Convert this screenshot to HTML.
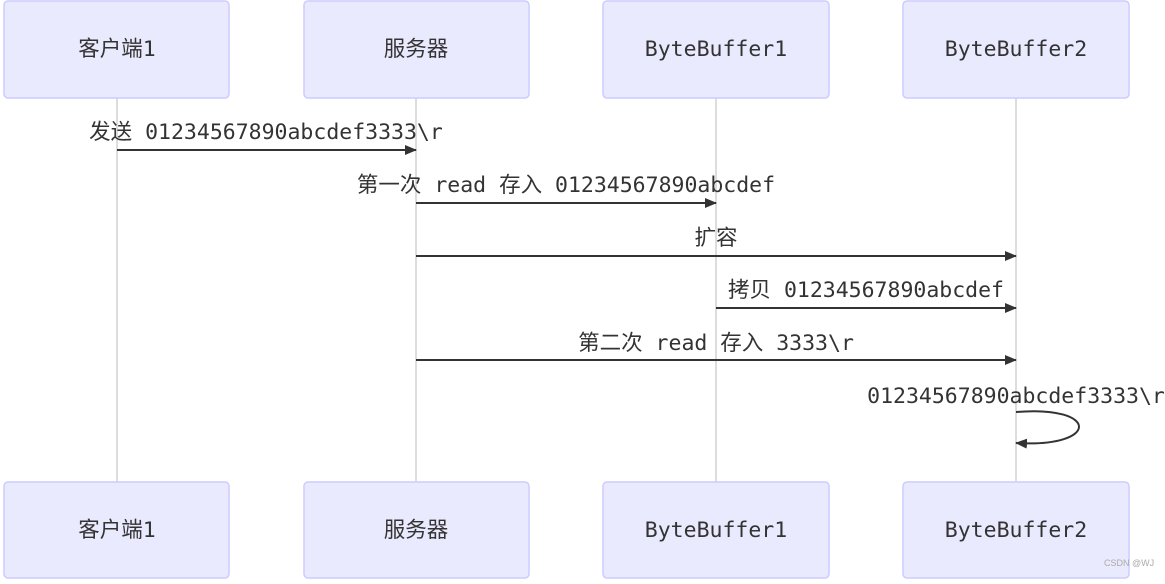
<!DOCTYPE html>
<html><head><meta charset="utf-8"><style>
html,body{margin:0;padding:0;background:#fff;}
svg text{font-family:"DejaVu Sans Mono","Liberation Mono","Noto Sans CJK SC",monospace;font-size:21.5px;fill:#333;}
</style></head><body>
<svg width="1165" height="579" viewBox="0 0 1165 579" xmlns="http://www.w3.org/2000/svg">
<defs><marker id="a" markerWidth="12" markerHeight="10" refX="11" refY="5" orient="auto" markerUnits="userSpaceOnUse"><path d="M0,0 L12,5 L0,10 z" fill="#333"/></marker></defs>
<g stroke="#bbb" stroke-width="1">
<line x1="117" y1="98" x2="117" y2="482"/><line x1="416" y1="98" x2="416" y2="482"/>
<line x1="716" y1="98" x2="716" y2="482"/><line x1="1016" y1="98" x2="1016" y2="482"/>
</g>
<g fill="#eaeaff" stroke="#ccccff" stroke-width="1.5">
<rect x="4" y="1" width="225" height="97" rx="4"/><rect x="304" y="1" width="225" height="97" rx="4"/>
<rect x="603" y="1" width="226" height="97" rx="4"/><rect x="903" y="1" width="226" height="97" rx="4"/>
<rect x="4" y="482" width="225" height="96" rx="4"/><rect x="304" y="482" width="225" height="96" rx="4"/>
<rect x="603" y="482" width="226" height="96" rx="4"/><rect x="903" y="482" width="226" height="96" rx="4"/>
</g>
<g text-anchor="middle">
<text x="117" y="56">客户端1</text><text x="416" y="56">服务器</text><text x="716" y="56">ByteBuffer1</text><text x="1016" y="56">ByteBuffer2</text>
<text x="117" y="537">客户端1</text><text x="416" y="537">服务器</text><text x="716" y="537">ByteBuffer1</text><text x="1016" y="537">ByteBuffer2</text>
<text x="266" y="139">发送 01234567890abcdef3333\r</text>
<text x="566" y="192">第一次 read 存入 01234567890abcdef</text>
<text x="716" y="245">扩容</text>
<text x="866" y="297">拷贝 01234567890abcdef</text>
<text x="716" y="350">第二次 read 存入 3333\r</text>
<text x="1016" y="403">01234567890abcdef3333\r</text>
</g>
<g stroke="#333" stroke-width="2" fill="none">
<line x1="117" y1="150" x2="416" y2="150" marker-end="url(#a)"/>
<line x1="416" y1="203" x2="716" y2="203" marker-end="url(#a)"/>
<line x1="416" y1="256" x2="1016" y2="256" marker-end="url(#a)"/>
<line x1="716" y1="308" x2="1016" y2="308" marker-end="url(#a)"/>
<line x1="416" y1="360" x2="1016" y2="360" marker-end="url(#a)"/>
<path d="M1016,412 C1100,405 1100,448 1016,443" marker-end="url(#a)"/>
</g>
<text x="1104" y="566" style="font-family:'Liberation Sans',sans-serif;font-size:9px;fill:#aaa">CSDN @WJ</text>
</svg>
</body></html>
